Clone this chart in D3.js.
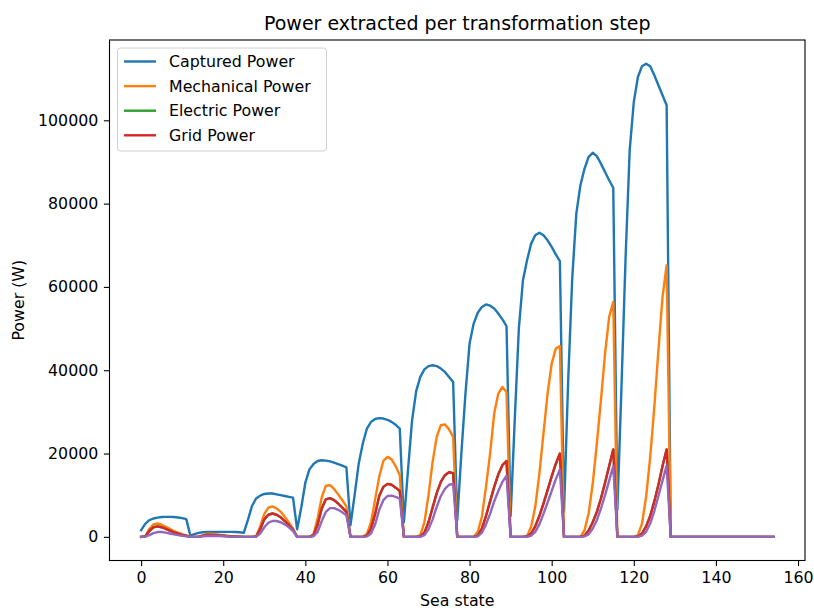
<!DOCTYPE html>
<html>
<head>
<meta charset="utf-8">
<script src="https://cdn.jsdelivr.net/npm/d3@7"></script>
<style>
  html, body { margin: 0; padding: 0; background: #fff; }
  svg text { font-family: "DejaVu Sans", sans-serif; fill: #000; }
</style>
</head>
<body>
<div id="chart"></div>
<script>
// --- data (one row per block of 13 sea states) ---
const capturedPower = [
    1600, 3100, 4000, 4400, 4600, 4750, 4800, 4800, 4750, 4650, 4500, 4250, 300,
    650, 950, 1100, 1200, 1200, 1200, 1200, 1200, 1200, 1200, 1150, 1100, 950,
    4000, 7400, 9200, 9900, 10300, 10400, 10400, 10200, 10000, 9800, 9600, 9400, 1800,
    7000, 13000, 16200, 17500, 18200, 18400, 18300, 18100, 17800, 17450, 17100, 16700, 2800,
    10000, 17600, 22400, 26000, 27600, 28300, 28500, 28400, 28100, 27600, 26900, 26000, 3500,
    16000, 28000, 35000, 38400, 40200, 41000, 41200, 41000, 40400, 39600, 38400, 37200, 4000,
    20000, 34400, 46400, 51200, 53800, 55200, 55800, 55500, 54800, 53600, 52200, 50600, 5000,
    28000, 50000, 61600, 66400, 70400, 72400, 73000, 72400, 71200, 69600, 67800, 66200, 6000,
    37000, 62000, 77600, 84400, 88400, 91200, 92200, 91400, 89600, 87600, 85600, 83800, 6500,
    36000, 67000, 92800, 104400, 110400, 113000, 113600, 113000, 110800, 108400, 106000, 103600, 0,
    0, 0, 0, 0, 0, 0, 0, 0, 0, 0, 0, 0, 0,
    0, 0, 0, 0, 0, 0, 0, 0, 0, 0, 0, 0
];

const mechanicalPower = [
    0, 150, 1900, 3000, 3200, 2900, 2400, 1900, 1400, 1000, 650, 350, 0,
    0, 50, 400, 700, 750, 650, 500, 380, 270, 180, 120, 60, 0,
    0, 0, 100, 2500, 5500, 7000, 7300, 6800, 6000, 4800, 3400, 2000, 0,
    0, 0, 0, 600, 4500, 9500, 12300, 12400, 11500, 10200, 8800, 7300, 0,
    0, 0, 0, 700, 3500, 9000, 14500, 18200, 19200, 18600, 17000, 14800, 0,
    0, 0, 0, 400, 3500, 10000, 18000, 24000, 26800, 27000, 25800, 24000, 0,
    0, 0, 0, 0, 1200, 4800, 12000, 20000, 29600, 34400, 36000, 34800, 0,
    0, 0, 0, 200, 2400, 7200, 15200, 24800, 34400, 41600, 45200, 45800, 0,
    0, 0, 0, 0, 1600, 5600, 12800, 22400, 32800, 44000, 52800, 56400, 0,
    0, 0, 0, 0, 400, 3200, 9600, 19200, 31200, 44800, 57600, 65200, 0,
    0, 0, 0, 0, 0, 0, 0, 0, 0, 0, 0, 0, 0,
    0, 0, 0, 0, 0, 0, 0, 0, 0, 0, 0, 0
];

const gridPower = [
    0, 100, 1400, 2300, 2500, 2300, 1900, 1500, 1100, 750, 450, 250, 0,
    0, 30, 250, 450, 480, 420, 330, 250, 180, 120, 80, 40, 0,
    0, 0, 80, 1800, 4200, 5300, 5600, 5300, 4700, 3800, 2800, 1700, 0,
    0, 0, 0, 400, 3000, 6800, 9000, 9300, 8800, 8000, 7000, 6000, 0,
    0, 0, 0, 300, 2000, 5500, 9800, 12000, 12700, 12500, 11800, 11000, 0,
    0, 0, 0, 100, 1000, 3500, 7000, 10500, 13200, 14800, 15500, 15300, 0,
    0, 0, 0, 0, 300, 2000, 5000, 8500, 12000, 15000, 17200, 18200, 0,
    0, 0, 0, 100, 800, 2500, 5000, 8000, 11200, 14500, 17500, 20000, 0,
    0, 0, 0, 0, 300, 1500, 3500, 6000, 9200, 13000, 17000, 21000, 0,
    0, 0, 0, 0, 100, 800, 2500, 5000, 8500, 12500, 17000, 21000, 0,
    0, 0, 0, 0, 0, 0, 0, 0, 0, 0, 0, 0, 0,
    0, 0, 0, 0, 0, 0, 0, 0, 0, 0, 0, 0
];

// electric power sits exactly under the grid power line in the picture
const electricPower = gridPower.slice();

// fifth, unlabelled line (purple)
const lastStagePower = [
    0, 30, 400, 900, 1150, 1150, 1000, 800, 600, 400, 250, 120, 0,
    0, 10, 100, 200, 230, 210, 170, 130, 90, 60, 40, 20, 0,
    0, 0, 30, 800, 2300, 3400, 3800, 3800, 3500, 3000, 2300, 1400, 0,
    0, 0, 0, 150, 1200, 3800, 6000, 6900, 6900, 6500, 5900, 5200, 0,
    0, 0, 0, 100, 800, 3000, 6500, 8800, 9800, 9900, 9600, 9200, 0,
    0, 0, 0, 0, 400, 1800, 4200, 7200, 9800, 11500, 12500, 12700, 0,
    0, 0, 0, 0, 100, 1000, 3000, 5500, 8500, 11000, 13200, 14700, 0,
    0, 0, 0, 0, 300, 1200, 3000, 5500, 8200, 11000, 13800, 16200, 0,
    0, 0, 0, 0, 100, 600, 2000, 4000, 6800, 10000, 13500, 17000, 0,
    0, 0, 0, 0, 0, 300, 1200, 3200, 6200, 9800, 13500, 17100, 0,
    0, 0, 0, 0, 0, 0, 0, 0, 0, 0, 0, 0, 0,
    0, 0, 0, 0, 0, 0, 0, 0, 0, 0, 0, 0
];

const seriesNames = ["Captured Power", "Mechanical Power", "Electric Power", "Grid Power", null];
const seriesColors = ["#1f77b4", "#ff7f0e", "#2ca02c", "#d62728", "#9467bd"];
const xTicks = [0, 20, 40, 60, 80, 100, 120, 140, 160];
const yTicks = [0, 20000, 40000, 60000, 80000, 100000];

// --- layout ---
const width = 814, height = 610;
const marginLeft = 109.5, marginRight = 9, marginTop = 40, marginBottom = 49.5;
const fontSize = 15.8;

const allSeries = [capturedPower, mechanicalPower, electricPower, gridPower, lastStagePower];
const seaStates = d3.range(capturedPower.length);

// matplotlib-like 5% padding around the data
function padded(extent) {
    const span = extent[1] - extent[0];
    return [extent[0] - span * 0.05, extent[1] + span * 0.05];
}

const x = d3.scaleLinear()
    .domain(padded(d3.extent(seaStates)))
    .range([marginLeft, width - marginRight]);

const y = d3.scaleLinear()
    .domain(padded([0, d3.max(allSeries, s => d3.max(s))]))
    .range([height - marginBottom, marginTop]);

const svg = d3.create("svg")
    .attr("width", width)
    .attr("height", height)
    .attr("viewBox", [0, 0, width, height]);

// lines
const line = d3.line()
    .x((d, i) => x(i))
    .y(d => y(d));

svg.append("g")
    .attr("class", "lines")
  .selectAll("path")
  .data(allSeries)
  .join("path")
    .attr("fill", "none")
    .attr("stroke", (d, i) => seriesColors[i])
    .attr("stroke-width", 2.4)
    .attr("stroke-linejoin", "round")
    .attr("stroke-linecap", "square")
    .attr("d", line);

// axes
const xAxis = svg.append("g")
    .attr("transform", `translate(0, ${height - marginBottom})`)
    .call(d3.axisBottom(x).tickValues(xTicks).tickSize(5.6).tickPadding(5.2).tickFormat(d3.format("d")));

const yAxis = svg.append("g")
    .attr("transform", `translate(${marginLeft}, 0)`)
    .call(d3.axisLeft(y).tickValues(yTicks).tickSize(5.6).tickPadding(5.6).tickFormat(d3.format("d")));

[xAxis, yAxis].forEach(g => {
    g.select(".domain").remove();
    g.selectAll(".tick line").attr("stroke", "#000").attr("stroke-width", 1.1);
    g.selectAll(".tick text")
        .attr("font-family", "DejaVu Sans")
        .attr("font-size", fontSize)
        .attr("fill", "#000");
});

// frame
svg.append("rect")
    .attr("x", marginLeft)
    .attr("y", marginTop)
    .attr("width", width - marginLeft - marginRight)
    .attr("height", height - marginTop - marginBottom)
    .attr("fill", "none")
    .attr("stroke", "#000")
    .attr("stroke-width", 1.1);

// title and labels
svg.append("text")
    .attr("x", (marginLeft + width - marginRight) / 2)
    .attr("y", 30)
    .attr("text-anchor", "middle")
    .attr("font-size", 19)
    .text("Power extracted per transformation step");

svg.append("text")
    .attr("x", (marginLeft + width - marginRight) / 2)
    .attr("y", 606)
    .attr("text-anchor", "middle")
    .attr("font-size", fontSize)
    .text("Sea state");

svg.append("text")
    .attr("transform", `translate(24, ${(marginTop + height - marginBottom) / 2}) rotate(-90)`)
    .attr("text-anchor", "middle")
    .attr("font-size", fontSize)
    .text("Power (W)");

// legend (upper left)
const legendItems = seriesNames.map((name, i) => ({ name, color: seriesColors[i] })).filter(d => d.name);
const legend = svg.append("g")
    .attr("transform", `translate(${marginLeft + 8}, ${marginTop + 8})`);

legend.append("rect")
    .attr("width", 209)
    .attr("height", 103)
    .attr("rx", 3)
    .attr("fill", "#fff")
    .attr("fill-opacity", 0.8)
    .attr("stroke", "#d0d0d0")
    .attr("stroke-width", 1);

const rows = legend.selectAll("g.row")
    .data(legendItems)
  .join("g")
    .attr("class", "row")
    .attr("transform", (d, i) => `translate(0, ${13.5 + i * 24.6})`);

rows.append("line")
    .attr("x1", 6.5).attr("x2", 38.5)
    .attr("stroke", d => d.color)
    .attr("stroke-width", 2.4);

rows.append("text")
    .attr("x", 51.5)
    .attr("y", 5.6)
    .attr("font-size", fontSize)
    .text(d => d.name);

document.getElementById("chart").append(svg.node());
</script>
</body>
</html>
